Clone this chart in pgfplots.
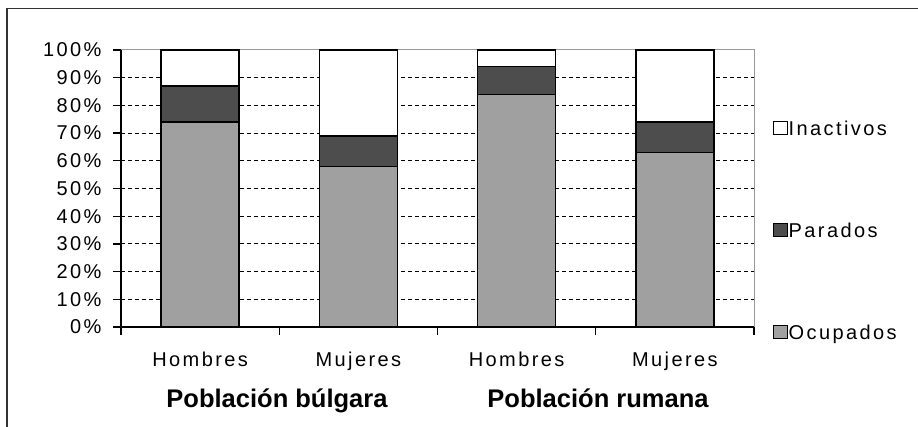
\documentclass[border=0pt]{standalone}
\usepackage{fontspec}
\setmainfont{Liberation Sans}
\newfontfamily\lsp[LetterSpace=12]{Liberation Sans}
\usepackage{pgfplots}
\pgfplotsset{compat=1.18}
\definecolor{ocup}{RGB}{160,160,160}
\definecolor{parad}{RGB}{77,77,77}
\begin{document}
\begin{tikzpicture}[x=1pt,y=1pt]
\useasboundingbox (0,0) rectangle (918,427);
\draw[line width=1.5pt, black!80] (7,0) -- (7,418.5) -- (918,418.5);
\begin{axis}[
  at={(121pt,100pt)}, anchor=south west,
  scale only axis, width=633pt, height=277pt,
  xmin=-0.5, xmax=3.5, ymin=0, ymax=100,
  clip=false,
  ybar stacked, bar width=78pt,
  axis x line*=bottom, axis y line*=left,
  axis line style={black, line width=1.3pt},
  tick align=outside, major tick length=8pt,
  tick style={black, line width=1.3pt},
  ytick={0,10,...,100},
  yticklabels={{0\%},{10\%},{20\%},{30\%},{40\%},{50\%},{60\%},{70\%},{80\%},{90\%},{100\%}},
  yticklabel style={xshift=-8pt},
  xtick={-0.5,0.5,1.5,2.5,3.5}, xticklabels={,,,,},
  extra x ticks={0,1,2,3},
  extra x tick labels={Hombres,Mujeres,Hombres,Mujeres},
  extra x tick style={major tick length=0pt, tick label style={yshift=-21pt}},
  extra y ticks={10,20,30,40,50,60,70,80,90},
  extra y tick labels={,,,,,,,,},
  extra y tick style={grid=major, major tick length=0pt},
  major grid style={black, line width=1.1pt, dash pattern=on 4pt off 3pt},
  tick label style={font=\lsp\fontsize{20}{24}\selectfont},
  reverse legend,
  legend cell align=left,
  legend style={at={(1.024,0.348)}, anchor=west, draw=none, fill=none,
    font=\lsp\fontsize{20}{24}\selectfont, row sep=84pt,
    nodes={inner sep=1pt}},
  legend image code/.code={\path (0pt,-6pt) (14pt,7pt); \draw[#1, draw=black, line width=1pt] (0pt,-6pt) rectangle (14pt,7pt);},
]
\addplot[fill=ocup, draw=black, line width=1.3pt] coordinates {(0,74) (1,58) (2,84) (3,63)};
\addplot[fill=parad, draw=black, line width=1.3pt] coordinates {(0,13) (1,11) (2,10) (3,11)};
\addplot[fill=white, draw=black, line width=1.3pt] coordinates {(0,13) (1,31) (2,6) (3,26)};
\legend{Ocupados,Parados,Inactivos}
\draw[black!40, line width=1pt] (rel axis cs:0,1) -- (rel axis cs:1,1) -- (rel axis cs:1,0);
\end{axis}
\node[font=\bfseries\fontsize{25.5}{30}\selectfont, anchor=base] at (277,19) {Población búlgara};
\node[font=\bfseries\fontsize{25.5}{30}\selectfont, anchor=base] at (598,19) {Población rumana};
\end{tikzpicture}
\end{document}
